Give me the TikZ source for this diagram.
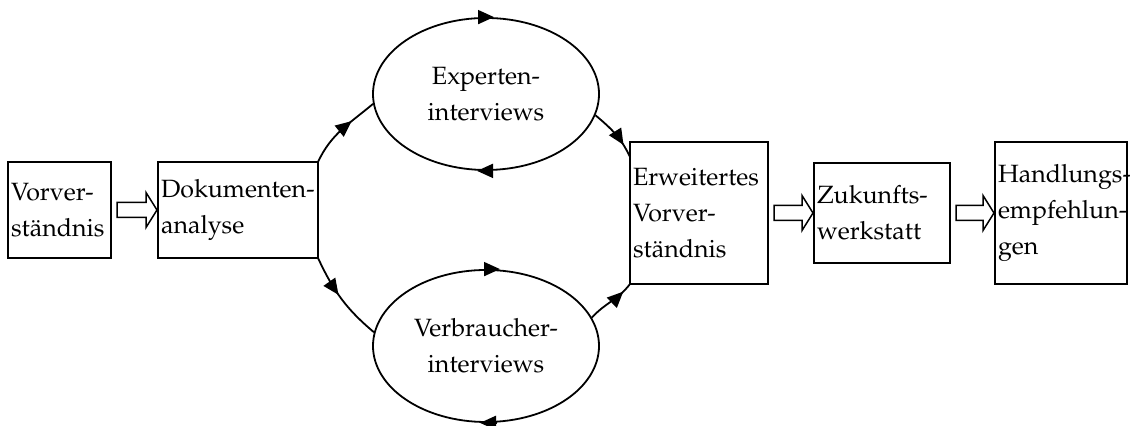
\documentclass[tikz,border=0pt]{standalone}
\usepackage[T1]{fontenc}
\usepackage{mathpazo}
\usetikzlibrary{shapes,arrows.meta,positioning,calc,decorations.markings}

\hyphenpenalty=10000
\exhyphenpenalty=10000

% hollow block arrow between two boxes
\newcommand{\hollowarrow}[2]{%
  \draw[line width=0.75pt, line join=miter]
    ($(#1.east)+(3pt,3.75pt)$) -- ($(#1.east -| #2.west)+(-6pt,3.75pt)$)
    -- ($(#1.east -| #2.west)+(-6pt,8.75pt)$) -- ($(#1.east -| #2.west)+(-0.5pt,0)$)
    -- ($(#1.east -| #2.west)+(-6pt,-8.75pt)$) -- ($(#1.east -| #2.west)+(-6pt,-3.75pt)$)
    -- ($(#1.east)+(3pt,-3.75pt)$) -- cycle;}

\begin{document}
\begin{tikzpicture}[
    every node/.style={font=\fontsize{12.5pt}{18pt}\selectfont},
    box/.style 2 args={draw, rectangle, line width=0.9pt, outer sep=0pt, align=left, text width=#1, inner xsep=1.5pt, minimum height=#2},
    round/.style={draw, ellipse, line width=0.9pt, align=center, inner sep=0pt, minimum width=113pt, minimum height=76pt},
    tip/.style={-{Triangle[length=8pt,width=7pt]}, line width=0.9pt},
    conn/.style={line width=0.9pt, postaction={decorate},
      decoration={markings, mark=at position #1 with {\arrow{Triangle[length=8pt,width=7pt]}}}}]

    \useasboundingbox (0,0) rectangle (565pt,213pt);

    \node[box={48.5pt}{48pt}] (vor) at (29.75pt,108pt) {Vorver-\\st\"andnis};
    \node[box={77pt}{48pt}, right=23.5pt of vor] (dok) {Dokumenten-\\analyse};
    \node[box={66pt}{71pt}, right=156pt of dok, yshift=-1.5pt] (erw) {Erweitertes\\Vorver-\\st\"andnis};
    \node[box={65pt}{50pt}, right=23pt of erw] (zuk) {Zukunfts-\\werkstatt};
    \node[box={63pt}{71pt}, right=22.5pt of zuk] (hand) {Handlungs-\\empfehlun-\\gen};

    \node[round] (exp) at (243pt,166pt) {Experten-\\interviews};
    \node[round] (ver) at (243pt,40pt) {Verbraucher-\\interviews};

    \coordinate (erwin) at ($(erw.north west)+(0,-7.5pt)$);

    \hollowarrow{vor}{dok}
    \hollowarrow{erw}{zuk}
    \hollowarrow{zuk}{hand}

    \draw[conn=0.66] (dok.north east) to[out=65, in=220] (exp.185);
    \draw[conn=0.75] (exp.349) to[out=-40, in=115] (erwin);
    \draw[conn=0.45] (dok.south east) to[out=-65, in=140] (ver.173);
    \draw[conn=0.8] (ver.15) to[out=48, in=233] (erw.south west);

    % circulation marks on the ellipses
    \draw[tip] ([xshift=-3pt]exp.north) -- ([xshift=4pt]exp.north);
    \draw[tip] ([xshift=3pt]exp.south) -- ([xshift=-4.5pt]exp.south);
    \draw[tip] ([xshift=-1pt]ver.north) -- ([xshift=7pt]ver.north);
    \draw[tip] ([xshift=5pt]ver.south) -- ([xshift=-3pt]ver.south);

\end{tikzpicture}
\end{document}
